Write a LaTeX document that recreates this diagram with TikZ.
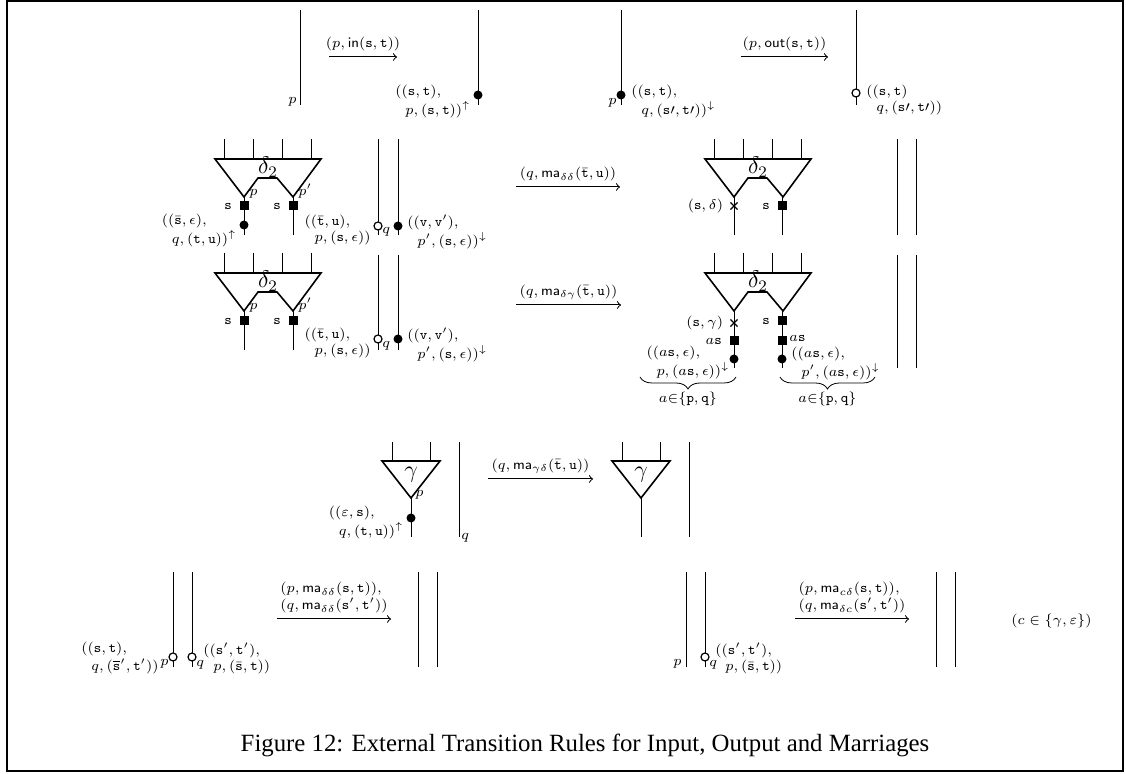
\documentclass[tikz,border=0pt]{standalone}
\usepackage[no-math]{fontspec}
\newfontfamily\capfont{Liberation Serif}
\usetikzlibrary{positioning,decorations.pathreplacing,shapes.misc}
\newcommand{\Ms}{\mathtt{s}}
\newcommand{\Mt}{\mathtt{t}}
\newcommand{\Mu}{\mathtt{u}}
\newcommand{\Mv}{\mathtt{v}}
\begin{document}
\begin{tikzpicture}[
  x = 0.5pt, y = -0.5pt,
  wire/.style={line width=0.5pt},
  gate/.style={line width=0.8pt, line join=miter},
  lbl/.style={font=\fontsize{7.5}{6.5}\selectfont, inner sep=0.5pt, align=left},
  rule/.style={->, line width=0.5pt},
  fulldot/.style={circle, fill=black, inner sep=0pt, minimum size=4.5pt},
  opendot/.style={circle, draw, line width=0.6pt, fill=white, inner sep=0pt, minimum size=4pt},
  sq/.style={rectangle, fill=black, inner sep=0pt, minimum size=4.5pt},
  cross/.style={cross out, draw, line width=0.6pt, inner sep=0pt, minimum size=3pt},
  brc/.style={decorate, decoration={brace, mirror, amplitude=6pt}},
  dtwo/.pic={
    \draw[wire] (-20,-58) -- (-20,-38) (9,-58) -- (9,-38) (38,-58) -- (38,-38) (67,-58) -- (67,-38);
    \draw[gate] (-29,-38) -- (77,-38) -- (49,0) -- (33,-19) -- (14,-19) -- (0,0) -- cycle;
    \node[font=\large] at (24,-30) {$\delta_2$};
  },
  gam/.pic={
    \draw[wire] (-19,-56) -- (-19,-37) (19,-56) -- (19,-37);
    \draw[gate] (-29,-37) -- (29,-37) -- (0,0) -- cycle;
    \node[font=\large] at (0,-23) {$\gamma$};
  }
]
\useasboundingbox (0,0) rectangle (1126,774);
%frame
\draw[line width=0.8pt] (7,1) rectangle (1123,771);

%row 1: input
\draw[wire] (300,10) -- (300,105);
\node[lbl, anchor=east] (p1) at (298,102) {$p$};
\coordinate (in1) at (329,57);
\coordinate (in2) at (397,57);
\draw[rule] (in1) -- node[lbl, above=2pt] (inl) {$(p,\mathsf{in}(\Ms,\Mt))$} (in2);
\draw[wire] (478,10) -- (478,105);
\node[fulldot] (d1) at (478,95) {};
\node[lbl, anchor=north east] (l1) at (472,84) {$((\Ms,\Mt),$\\\hspace*{5pt}$p,(\Ms,\Mt))^{\uparrow}$};

%row 1: output
\draw[wire] (621,10) -- (621,105);
\node[fulldot] (d2) at (621,95) {};
\node[lbl, anchor=east] (p2) at (618,103) {$p$};
\node[lbl, anchor=north west] (l2) at (630,84) {$((\Ms,\Mt),$\\\hspace*{5pt}$q,(\Ms\prime,\Mt\prime))^{\downarrow}$};
\coordinate (out1) at (741,57);
\coordinate (out2) at (828,57);
\draw[rule] (out1) -- node[lbl, above=2pt] (outl) {$(p,\mathsf{out}(\Ms,\Mt))$} (out2);
\draw[wire] (856,10) -- (856,105);
\node[opendot] (o1) at (856,93) {};
\node[lbl, anchor=north west] (l3) at (865,84) {$((\Ms,\Mt)$\\\hspace*{5pt}$q,(\Ms\prime,\Mt\prime))$};

%row 2: delta delta
\pic at (244,197) {dtwo};
\draw[wire] (244,197) -- (244,235);
\draw[wire] (293,197) -- (293,235);
\node[sq] (s1) at (244,206) {};
\node[sq] (s2) at (293,206) {};
\node[lbl, left=3pt of s1] (s1l) {$\Ms$};
\node[lbl, left=3pt of s2] (s2l) {$\Ms$};
\node[lbl, anchor=south west] (p3) at (248,200) {$p$};
\node[lbl, anchor=south west] (p4) at (297,200) {$p'$};
\node[fulldot] (d3) at (244,225) {};
\node[lbl, anchor=north east] (l4) at (238,213) {$((\bar\Ms,\epsilon),$\\\hspace*{5pt}$q,(\Mt,\Mu))^{\uparrow}$};
\draw[wire] (378,139) -- (378,235);
\draw[wire] (398,139) -- (398,235);
\node[opendot] (o2) at (378,226) {};
\node[fulldot] (d4) at (398,226) {};
\node[lbl, anchor=west] (q1) at (381,232) {$q$};
\node[lbl, anchor=north east] (l5) at (372,214) {$((\bar\Mt,\Mu),$\\\hspace*{5pt}$p,(\Ms,\epsilon))$};
\node[lbl, anchor=north west] (l6) at (406,214) {$((\Mv,\Mv'),$\\\hspace*{5pt}$p',(\Ms,\epsilon))^{\downarrow}$};
\coordinate (dd1) at (516,187);
\coordinate (dd2) at (620,187);
\draw[rule] (dd1) -- node[lbl, above=2pt] (ddl) {$(q,\mathsf{ma}_{\delta\delta}(\bar\Mt,\Mu))$} (dd2);
\pic at (734,197) {dtwo};
\draw[wire] (734,197) -- (734,235);
\draw[wire] (782,197) -- (782,235);
\node[cross] (x1) at (734,206) {};
\node[lbl, left=3pt of x1] (x1l) {$(\Ms,\delta)$};
\node[sq] (s3) at (782,206) {};
\node[lbl, left=3pt of s3] (s3l) {$\Ms$};
\draw[wire] (897,139) -- (897,235);
\draw[wire] (916,139) -- (916,235);

%row 3: delta gamma
\pic at (244,311) {dtwo};
\draw[wire] (244,311) -- (244,350);
\draw[wire] (293,311) -- (293,350);
\node[sq] (s4) at (244,321) {};
\node[sq] (s5) at (293,321) {};
\node[lbl, left=3pt of s4] (s4l) {$\Ms$};
\node[lbl, left=3pt of s5] (s5l) {$\Ms$};
\node[lbl, anchor=south west] (p5) at (248,314) {$p$};
\node[lbl, anchor=south west] (p6) at (297,314) {$p'$};
\draw[wire] (378,255) -- (378,350);
\draw[wire] (398,255) -- (398,350);
\node[opendot] (o3) at (378,339) {};
\node[fulldot] (d5) at (398,339) {};
\node[lbl, anchor=west] (q2) at (381,346) {$q$};
\node[lbl, anchor=north east] (l7) at (372,327) {$((\bar\Mt,\Mu),$\\\hspace*{5pt}$p,(\Ms,\epsilon))$};
\node[lbl, anchor=north west] (l8) at (406,327) {$((\Mv,\Mv'),$\\\hspace*{5pt}$p',(\Ms,\epsilon))^{\downarrow}$};
\coordinate (dg1) at (516,305);
\coordinate (dg2) at (621,305);
\draw[rule] (dg1) -- node[lbl, above=2pt] (dgl) {$(q,\mathsf{ma}_{\delta\gamma}(\bar\Mt,\Mu))$} (dg2);
\pic at (734,311) {dtwo};
\draw[wire] (734,311) -- (734,368);
\draw[wire] (782,311) -- (782,368);
\node[cross] (x2) at (734,323) {};
\node[lbl, left=3pt of x2] (x2l) {$(\Ms,\gamma)$};
\node[sq] (s6) at (734,341) {};
\node[lbl, left=3pt of s6] (s6l) {$a\Ms$};
\node[fulldot] (d6) at (734,359) {};
\node[lbl, anchor=north east] (l9) at (731,345) {$((a\Ms,\epsilon),$\\\hspace*{5pt}$p,(a\Ms,\epsilon))^{\downarrow}$};
\node[sq] (s7) at (782,321) {};
\node[lbl, left=3pt of s7] (s7l) {$\Ms$};
\node[sq] (s8) at (782,341) {};
\node[lbl, anchor=west] (s8l) at (788,338) {$a\Ms$};
\node[fulldot] (d7) at (782,359) {};
\node[lbl, anchor=north west] (l10) at (790,346) {$((a\Ms,\epsilon),$\\\hspace*{5pt}$p',(a\Ms,\epsilon))^{\downarrow}$};
\coordinate (b1) at (640,377);
\coordinate (b2) at (736,377);
\coordinate (b3) at (780,377);
\coordinate (b4) at (875,377);
\draw[brc] (b1) -- node[lbl, below=7pt] (bl1) {$a{\in}\{\mathtt{p},\mathtt{q}\}$} (b2);
\draw[brc] (b3) -- node[lbl, below=7pt] (bl2) {$a{\in}\{\mathtt{p},\mathtt{q}\}$} (b4);
\draw[wire] (897,255) -- (897,368);
\draw[wire] (916,255) -- (916,368);

%row 4: gamma delta
\pic at (411,498) {gam};
\draw[wire] (411,498) -- (411,537);
\node[lbl, anchor=south west] (p7) at (414,501) {$p$};
\node[fulldot] (d8) at (411,518) {};
\node[lbl, anchor=north east] (l11) at (405,505) {$((\varepsilon,\Ms),$\\\hspace*{5pt}$q,(\Mt,\Mu))^{\uparrow}$};
\draw[wire] (459,442) -- (459,537);
\node[lbl, anchor=west] (q3) at (460,538) {$q$};
\coordinate (gd1) at (488,479);
\coordinate (gd2) at (593,479);
\draw[rule] (gd1) -- node[lbl, above=2pt] (gdl) {$(q,\mathsf{ma}_{\gamma\delta}(\bar\Mt,\Mu))$} (gd2);
\pic at (641,498) {gam};
\draw[wire] (641,498) -- (641,537);
\draw[wire] (689,442) -- (689,537);

%row 5: annihilation
\draw[wire] (173,572) -- (173,667);
\draw[wire] (192,572) -- (192,667);
\node[opendot] (o4) at (173,657) {};
\node[opendot] (o5) at (192,657) {};
\node[lbl, anchor=east] (p8) at (170,664) {$p$};
\node[lbl, anchor=west] (q4) at (195,665) {$q$};
\node[lbl, anchor=east] (l12) at (160,658) {$((\Ms,\Mt),$\\\hspace*{5pt}$q,(\overline{\Ms}',\Mt'))$};
\node[lbl, anchor=west] (l13) at (202,658) {$((\Ms',\Mt'),$\\\hspace*{5pt}$p,(\bar\Ms,\Mt))$};
\coordinate (aa1) at (277,619);
\coordinate (aa2) at (391,619);
\draw[rule] (aa1) -- node[lbl, above=2pt] (aal) {$(p,\mathsf{ma}_{\delta\delta}(\Ms,\Mt)),$\\$(q,\mathsf{ma}_{\delta\delta}(\Ms',\Mt'))$} (aa2);
\draw[wire] (418,572) -- (418,667);
\draw[wire] (437,572) -- (437,667);

\draw[wire] (686,572) -- (686,667);
\draw[wire] (705,572) -- (705,667);
\node[lbl, anchor=east] (p9) at (683,664) {$p$};
\node[opendot] (o6) at (705,657) {};
\node[lbl, anchor=west] (q5) at (708,665) {$q$};
\node[lbl, anchor=west] (l14) at (714,658) {$((\Ms',\Mt'),$\\\hspace*{5pt}$p,(\bar\Ms,\Mt))$};
\coordinate (ac1) at (795,619);
\coordinate (ac2) at (909,619);
\draw[rule] (ac1) -- node[lbl, above=2pt] (acl) {$(p,\mathsf{ma}_{c\delta}(\Ms,\Mt)),$\\$(q,\mathsf{ma}_{\delta c}(\Ms',\Mt'))$} (ac2);
\draw[wire] (936,572) -- (936,667);
\draw[wire] (955,572) -- (955,667);
\node[lbl, anchor=west] (cc) at (1010,621) {$(c\in\{\gamma,\varepsilon\})$};

%caption
\node[font=\capfont\fontsize{12.4}{15}\selectfont] (cap) at (585,745) {Figure 12: External Transition Rules for Input, Output and Marriages};
\end{tikzpicture}
\end{document}
